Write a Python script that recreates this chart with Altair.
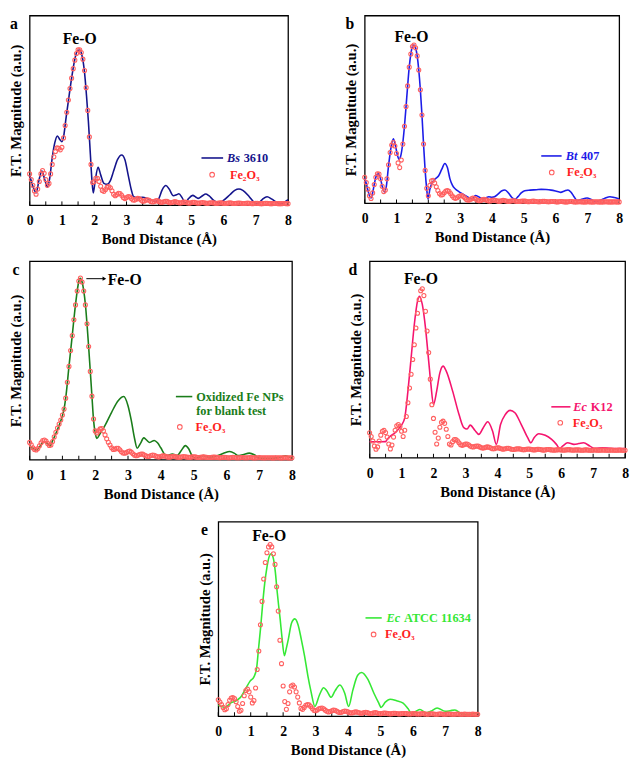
import altair as alt
import pandas as pd

FONT = "Liberation Serif"
FE_COLOR = "#ff6060"
FE_TEXT = "#ff1f1f"

# common R grid of the Fe2O3 reference (open circles), 0 .. 8 A
R_FE = [round(i * 0.05, 2) for i in range(161)]

FE_A = [16.5, 13.5, 10.5, 7.5, 5.8, 8.5, 12.5, 16.5, 18.3, 16.8,
        13.5, 10.5, 11.5, 16.5, 21.5, 25.5, 28.3, 30.2, 30.0, 29.2,
        30.5, 35.5, 42.0, 49.0, 55.5, 61.5, 67.0, 72.0, 76.5, 80.0,
        82.0, 82.0, 80.5, 77.0, 71.0, 62.0, 50.0, 36.0, 21.5, 12.0,
        12.5, 14.2, 14.2, 12.5, 10.0, 7.8, 7.3, 8.3, 9.5, 9.8,
        9.2, 7.6, 5.8, 5.0, 5.6, 6.3, 6.2, 5.2, 4.0, 3.5,
        4.0, 4.6, 4.4, 3.6, 2.8, 2.7, 3.2, 3.6, 3.4, 2.7,
        2.1, 2.2, 2.7, 2.9, 2.6, 2.0, 1.7, 1.9, 2.3, 2.4,
        2.0, 1.6, 1.5, 1.8, 2.1, 2.0, 1.6, 1.3, 1.4, 1.7,
        1.9, 1.7, 1.4, 1.2, 1.3, 1.6, 1.7, 1.5, 1.2, 1.1,
        1.3, 1.5, 1.5, 1.3, 1.1, 1.1, 1.3, 1.4, 1.3, 1.1,
        1.0, 1.1, 1.3, 1.3, 1.2, 1.0, 1.0, 1.1, 1.2, 1.2,
        1.0, 0.9, 1.0, 1.1, 1.2, 1.1, 0.9, 0.9, 1.0, 1.1,
        1.1, 1.0, 0.9, 0.9, 1.0, 1.1, 1.0, 0.9, 0.8, 0.9,
        1.0, 1.0, 0.9, 0.8, 0.8, 0.9, 1.0, 1.0, 0.9, 0.8,
        0.8, 0.9, 0.9, 0.9, 0.8, 0.8, 0.8, 0.9, 0.9, 0.8,
        0.8]

FE_B = [13.8, 11.0, 7.5, 4.0, 2.5, 5.5, 10.0, 13.8, 15.7, 15.5,
        13.0, 9.0, 6.2, 7.0, 13.0, 20.5, 27.0, 31.0, 32.3, 30.5,
        26.5, 21.5, 19.0, 23.0, 31.5, 41.0, 51.5, 62.5, 72.5, 79.5,
        83.5, 84.3, 82.8, 78.5, 71.0, 60.5, 47.0, 31.5, 17.5, 8.0,
        4.0, 9.5, 12.0, 12.2, 10.8, 8.8, 6.8, 5.2, 4.4, 4.6,
        5.6, 6.5, 6.8, 6.3, 5.2, 4.0, 3.0, 2.6, 2.9, 3.6,
        4.0, 4.1, 3.6, 2.8, 2.0, 1.6, 1.8, 2.3, 2.7, 2.6,
        2.1, 1.6, 1.3, 1.5, 1.9, 2.1, 1.9, 1.5, 1.2, 1.2,
        1.5, 1.7, 1.6, 1.3, 1.1, 1.1, 1.3, 1.5, 1.4, 1.2,
        1.0, 1.0, 1.2, 1.3, 1.3, 1.1, 0.9, 0.9, 1.0, 1.2,
        1.2, 1.1, 0.9, 0.8, 0.9, 1.0, 1.1, 1.0, 0.9, 0.8,
        0.8, 0.9, 1.0, 1.0, 0.9, 0.8, 0.8, 0.9, 0.9, 0.9,
        0.8, 0.7, 0.8, 0.9, 0.9, 0.8, 0.7, 0.7, 0.8, 0.9,
        0.9, 0.8, 0.7, 0.7, 0.8, 0.8, 0.8, 0.7, 0.7, 0.7,
        0.8, 0.8, 0.7, 0.7, 0.7, 0.8, 0.8, 0.7, 0.7, 0.7,
        0.7, 0.8, 0.8, 0.7, 0.7, 0.7, 0.7, 0.8, 0.7, 0.7,
        0.7]

FE_C = [8.7, 7.5, 6.0, 5.2, 4.9, 5.6, 7.0, 8.5, 9.6, 9.9,
        9.4, 8.2, 7.2, 7.4, 9.2, 11.5, 13.8, 16.0, 18.0, 20.0,
        22.5, 25.5, 31.0, 39.0, 47.0, 55.0, 62.5, 70.5, 78.0, 85.0,
        90.0, 91.5, 89.5, 85.0, 78.0, 68.5, 57.0, 44.5, 32.0, 20.5,
        14.5, 13.5, 14.5, 15.5, 15.7, 14.5, 12.5, 10.5, 8.8, 7.4,
        6.0, 5.2, 5.3, 5.8, 5.7, 5.0, 4.0, 3.4, 3.3, 3.6,
        4.1, 4.3, 3.8, 3.0, 2.3, 2.0, 2.2, 2.6, 2.9, 2.8,
        2.4, 1.9, 1.6, 1.7, 2.1, 2.3, 2.2, 1.8, 1.5, 1.4,
        1.6, 1.9, 1.9, 1.7, 1.4, 1.3, 1.4, 1.6, 1.7, 1.5,
        1.3, 1.2, 1.3, 1.5, 1.6, 1.5, 1.3, 1.2, 1.2, 1.4,
        1.5, 1.4, 1.2, 1.1, 1.2, 1.3, 1.4, 1.3, 1.2, 1.1,
        1.1, 1.2, 1.3, 1.3, 1.2, 1.1, 1.0, 1.1, 1.2, 1.2,
        1.1, 1.0, 1.0, 1.1, 1.2, 1.1, 1.0, 1.0, 1.0, 1.1,
        1.1, 1.0, 1.0, 1.0, 1.1, 1.1, 1.0, 0.9, 1.0, 1.0,
        1.1, 1.0, 1.0, 0.9, 1.0, 1.0, 1.0, 1.0, 0.9, 0.9,
        1.0, 1.0, 1.0, 0.9, 0.9, 1.0, 1.0, 1.0, 0.9, 0.9,
        1.0]

FE_D = [12.7, 10.8, 8.5, 6.0, 4.3, 5.5, 8.5, 11.5, 13.5, 13.9,
        12.8, 10.5, 7.0, 4.5, 6.5, 10.5, 14.0, 16.3, 16.9, 15.8,
        13.5, 10.8, 14.0, 21.0, 28.0, 35.5, 42.5, 50.0, 57.5, 66.0,
        73.5, 80.5, 85.0, 86.0, 82.5, 74.5, 64.5, 53.5, 40.0, 27.0,
        20.0, 13.0, 7.0, 10.0, 15.5, 18.0, 18.6, 17.5, 14.5, 10.8,
        7.0, 6.5, 8.2, 9.2, 9.3, 8.6, 7.6, 6.6, 6.3, 6.6,
        7.0, 7.0, 6.6, 6.0, 5.6, 5.5, 5.8, 6.0, 5.9, 5.5,
        5.1, 4.9, 5.1, 5.4, 5.5, 5.3, 4.9, 4.6, 4.6, 4.9,
        5.1, 5.0, 4.7, 4.4, 4.4, 4.6, 4.8, 4.8, 4.6, 4.3,
        4.2, 4.3, 4.5, 4.6, 4.5, 4.3, 4.1, 4.1, 4.3, 4.4,
        4.4, 4.3, 4.1, 4.0, 4.1, 4.3, 4.3, 4.2, 4.0, 3.9,
        4.0, 4.2, 4.2, 4.1, 4.0, 3.9, 3.9, 4.0, 4.1, 4.1,
        4.0, 3.9, 3.9, 4.0, 4.1, 4.1, 4.0, 3.9, 3.9, 4.0,
        4.0, 4.0, 3.9, 3.8, 3.9, 4.0, 4.0, 3.9, 3.8, 3.8,
        3.9, 4.0, 3.9, 3.8, 3.8, 3.9, 3.9, 3.9, 3.8, 3.8,
        3.8, 3.9, 3.9, 3.8, 3.8, 3.8, 3.9, 3.9, 3.8, 3.8,
        3.8]

FE_E = [8.4, 7.3, 6.0, 4.5, 3.3, 3.8, 6.0, 8.2, 9.3, 9.6,
        9.0, 7.4, 5.0, 2.5, 3.0, 6.5, 10.5, 13.2, 13.9, 12.5,
        9.8, 6.8, 8.0, 14.5, 24.0, 33.5, 47.0, 59.0, 70.5, 79.0,
        84.0, 87.0, 88.2, 87.0, 83.5, 78.0, 66.5, 54.0, 39.0, 27.0,
        15.5, 7.5, 3.5, 6.5, 12.5, 15.5, 16.0, 15.0, 12.5, 9.8,
        6.8, 4.0, 3.5, 4.5, 5.6, 6.0, 5.8, 5.0, 3.9, 3.0,
        2.8, 3.2, 3.8, 4.1, 4.2, 3.8, 3.1, 2.5, 2.2, 2.4,
        2.8, 3.1, 3.0, 2.6, 2.1, 1.9, 2.0, 2.4, 2.6, 2.5,
        2.2, 1.8, 1.6, 1.8, 2.1, 2.2, 2.0, 1.7, 1.5, 1.6,
        1.9, 2.0, 1.8, 1.5, 1.4, 1.5, 1.7, 1.8, 1.6, 1.4,
        1.3, 1.4, 1.6, 1.6, 1.5, 1.3, 1.2, 1.3, 1.5, 1.5,
        1.4, 1.2, 1.2, 1.3, 1.4, 1.4, 1.3, 1.2, 1.1, 1.2,
        1.3, 1.3, 1.2, 1.1, 1.1, 1.2, 1.3, 1.2, 1.1, 1.0,
        1.1, 1.2, 1.2, 1.1, 1.0, 1.0, 1.1, 1.2, 1.1, 1.0,
        1.0, 1.1, 1.1, 1.1, 1.0, 1.0, 1.0, 1.1, 1.1, 1.0,
        1.0, 1.0, 1.1, 1.0, 1.0, 1.0, 1.0, 1.1, 1.0, 1.0,
        1.0]

# sample curves: [R (A), magnitude (% of panel height)]
LINE_A = [[0.00, 16], [0.10, 10], [0.20, 6.5], [0.30, 14], [0.38, 18], [0.46, 14], [0.55, 9.5],
          [0.62, 14], [0.70, 25], [0.78, 33], [0.86, 36.5], [0.94, 34.5], [1.00, 33.5], [1.06, 37],
          [1.12, 45], [1.20, 55], [1.30, 67], [1.40, 77], [1.48, 81.5], [1.55, 81.8], [1.62, 79],
          [1.70, 70], [1.76, 58], [1.82, 44], [1.88, 27], [1.93, 13], [1.97, 6.5], [2.03, 13],
          [2.12, 20], [2.20, 16], [2.30, 11.5], [2.40, 11], [2.50, 13], [2.60, 18], [2.72, 24],
          [2.85, 26.5], [2.95, 24], [3.05, 16], [3.15, 8], [3.22, 4.5], [3.35, 4], [3.50, 4.2],
          [3.65, 3.5], [3.80, 2.5], [3.90, 1.8], [4.00, 3.5], [4.10, 8], [4.22, 10.4], [4.32, 8.5],
          [4.45, 5], [4.55, 5.5], [4.62, 6], [4.72, 4], [4.82, 1.2], [4.92, 3.5], [5.05, 5.2],
          [5.15, 4.2], [5.22, 3.6], [5.35, 5.0], [5.45, 5.9], [5.55, 5.0], [5.70, 2.5], [5.85, 1.2],
          [6.00, 2.5], [6.20, 5.5], [6.35, 7.8], [6.48, 8.5], [6.60, 7.8], [6.80, 4.5], [6.95, 1.5],
          [7.05, 0.7], [7.20, 3], [7.35, 4.5], [7.50, 3.2], [7.65, 1.5], [7.80, 0.7], [7.90, 1.8],
          [8.00, 2.9]]

LINE_B = [[0.00, 13.5], [0.05, 10.5], [0.10, 7], [0.15, 4], [0.20, 2.8], [0.25, 5.5], [0.30, 10],
          [0.35, 13.8], [0.42, 15.7], [0.50, 13], [0.55, 9], [0.62, 6], [0.68, 9], [0.75, 20],
          [0.82, 29], [0.90, 34.3], [0.97, 30.5], [1.03, 25.5], [1.08, 23.5], [1.13, 25], [1.20, 32.5],
          [1.25, 41], [1.30, 51.5], [1.35, 62.5], [1.40, 72.5], [1.45, 79.5], [1.50, 83.5], [1.55, 84.3],
          [1.60, 82.8], [1.65, 78.5], [1.70, 71], [1.75, 60.5], [1.80, 47], [1.85, 31.5], [1.90, 17.5],
          [1.95, 7.5], [1.99, 2.3], [2.05, 7.5], [2.14, 11.5], [2.22, 13], [2.32, 14.5], [2.42, 18],
          [2.52, 21.2], [2.60, 19], [2.68, 13], [2.76, 9.5], [2.85, 7.6], [2.95, 6.3], [3.05, 5.2],
          [3.15, 4.2], [3.25, 3.2], [3.38, 2.3], [3.48, 4.1], [3.58, 3.5], [3.70, 2.3], [3.80, 2.8],
          [3.90, 3.5], [4.00, 3.2], [4.08, 3.5], [4.20, 5.0], [4.30, 6.5], [4.41, 7.1], [4.52, 5.5],
          [4.62, 3.2], [4.72, 2.1], [4.82, 3.5], [4.92, 5.5], [5.03, 6.7], [5.20, 7.0], [5.40, 7.2],
          [5.55, 7.4], [5.70, 7.3], [5.86, 7.0], [6.00, 6.5], [6.16, 5.8], [6.28, 6.5], [6.39, 7.1],
          [6.48, 6.0], [6.58, 3.5], [6.68, 1.4], [6.80, 2.0], [6.99, 2.8], [7.12, 2.0], [7.25, 1.0],
          [7.40, 1.6], [7.55, 2.7], [7.71, 3.5], [7.85, 3.0], [8.00, 2.3]]

LINE_C = [[0.00, 6.8], [0.10, 5.6], [0.20, 4.9], [0.30, 6.5], [0.45, 9.1], [0.55, 8.0], [0.62, 6.9],
          [0.70, 9.5], [0.80, 13.2], [0.90, 17.3], [1.00, 22.2], [1.05, 25.5], [1.10, 31], [1.20, 47],
          [1.30, 62.6], [1.40, 78.3], [1.50, 89.8], [1.54, 91.4], [1.60, 89.5], [1.70, 78.3], [1.80, 56.8],
          [1.90, 32.1], [1.95, 19.8], [2.00, 13.5], [2.05, 10.7], [2.15, 13.2], [2.30, 17.3], [2.50, 23.9],
          [2.70, 29.7], [2.87, 31.8], [3.00, 27.2], [3.10, 19.8], [3.20, 10.7], [3.28, 5.8], [3.38, 8.2],
          [3.48, 11.0], [3.56, 10], [3.66, 8.7], [3.80, 9.7], [3.90, 8.5], [4.00, 6.0], [4.13, 2.5],
          [4.20, 2.1], [4.35, 2.8], [4.50, 2.1], [4.62, 4.5], [4.75, 7.1], [4.85, 5.5], [4.95, 2.1],
          [5.05, 0.8], [5.20, 1.5], [5.30, 2.1], [5.40, 1.5], [5.50, 1.2], [5.65, 1.6], [5.80, 2.5],
          [5.95, 3.5], [6.10, 4.1], [6.25, 3.2], [6.35, 2.1], [6.50, 2.5], [6.70, 3.3], [6.85, 2.5],
          [7.00, 0.8], [7.25, 0.7], [7.50, 0.8], [7.65, 1.2], [7.80, 2.0], [7.90, 1.5], [8.00, 0.8]]

LINE_D = [[0.00, 8.1], [0.25, 8.1], [0.50, 8.2], [0.55, 9.3], [0.65, 11], [0.80, 12.7], [0.90, 14.5],
          [1.00, 16.6], [1.10, 20.3], [1.20, 33.9], [1.30, 50.8], [1.40, 67.8], [1.50, 79.7], [1.56, 82.2],
          [1.65, 78], [1.75, 66.1], [1.85, 49.2], [1.92, 37.3], [2.00, 27.1], [2.10, 33.9], [2.20, 43.2],
          [2.30, 46.6], [2.40, 44.1], [2.60, 33.9], [2.80, 22], [2.95, 15.3], [3.05, 14.6], [3.15, 16.6],
          [3.30, 13.9], [3.42, 11.9], [3.55, 15], [3.70, 18.3], [3.85, 13.6], [3.97, 6.8], [4.10, 16.9],
          [4.25, 22], [4.40, 24.1], [4.55, 22.9], [4.75, 16.9], [4.95, 10.2], [5.05, 7.6], [5.15, 10.2],
          [5.30, 12.2], [5.50, 11.4], [5.70, 9.3], [5.85, 6.8], [5.95, 4.7], [6.05, 6.0], [6.20, 7.6],
          [6.40, 6.8], [6.55, 7.2], [6.70, 7.6], [6.90, 5.9], [7.05, 4.7], [7.30, 5.1], [7.60, 4.7],
          [8.00, 4.7]]

LINE_E = [[0.00, 5.6], [0.10, 5.0], [0.20, 4.5], [0.30, 5.5], [0.40, 7.0], [0.50, 7.5], [0.60, 8.5],
          [0.70, 10], [0.85, 14.3], [0.98, 18.0], [1.10, 20.2], [1.18, 24.4], [1.24, 34.5], [1.31, 46.3],
          [1.37, 58], [1.43, 68], [1.50, 76.5], [1.56, 81.5], [1.63, 83.5], [1.70, 81], [1.76, 74],
          [1.81, 65], [1.86, 57], [1.91, 49.6], [1.96, 41.2], [2.04, 31.1], [2.10, 35], [2.16, 39.5],
          [2.26, 47.9], [2.36, 50], [2.46, 47], [2.56, 39.5], [2.66, 31], [2.76, 21], [2.86, 12.6],
          [2.98, 5], [3.12, 10.9], [3.25, 14.6], [3.35, 13], [3.48, 9.7], [3.60, 13], [3.75, 16],
          [3.90, 11.8], [4.02, 5], [4.15, 13.4], [4.30, 21], [4.42, 22.4], [4.60, 19.3], [4.80, 11.8],
          [4.95, 6.7], [5.02, 4.5], [5.15, 7.2], [5.30, 8.7], [5.50, 7.9], [5.70, 6.7], [5.85, 3.9],
          [5.97, 1.2], [6.10, 2.5], [6.22, 3.4], [6.40, 1.7], [6.55, 2.5], [6.75, 4.2], [7.00, 2.5],
          [7.15, 2.8], [7.30, 3.2], [7.50, 1.2], [7.70, 0.8], [8.00, 1.7]]

X_LABELS = [0, 1, 2, 3, 4, 5, 6, 7, 8]
TICK_R = [i * 0.5 for i in range(17)]


def xenc():
    return alt.X("R:Q", scale=alt.Scale(domain=[0, 8], nice=False, zero=False),
                 axis=alt.Axis(values=X_LABELS, format="d", title="Bond Distance (Å)",
                               ticks=False, tickSize=0, labelPadding=9, titlePadding=4,
                               labelFlush=False, domain=False, grid=False))


def yenc():
    return alt.Y("v:Q", scale=alt.Scale(domain=[0, 100], nice=False),
                 axis=alt.Axis(labels=False, ticks=False, tickSize=0,
                               title="F.T. Magnitude (a.u.)", titlePadding=6,
                               domain=False, grid=False))


def txt(df, size=12.5, color="black", italic=False, align="left", dx=0):
    return alt.Chart(pd.DataFrame(df)).mark_text(
        font=FONT, fontSize=size, fontWeight="bold",
        fontStyle="italic" if italic else "normal",
        align=align, baseline="middle", dx=dx, color=color
    ).encode(x=xenc(), y=yenc(), text="t:N")


def panel(letter, lx, ly, w, h, line, fe, color, leg, feo, arrow=None):
    x, y = xenc(), yenc()
    layers = []
    tick_df = pd.DataFrame({"R": TICK_R, "v": [0] * len(TICK_R), "v2": [2] * len(TICK_R)})
    layers.append(alt.Chart(tick_df).mark_rule(color="black", strokeWidth=1).encode(x=x, y=y, y2="v2:Q"))
    line_df = pd.DataFrame(line, columns=["R", "v"])
    layers.append(alt.Chart(line_df).mark_line(color=color, strokeWidth=1.6, interpolate="monotone")
                  .encode(x=x, y=y))
    fe_df = pd.DataFrame({"R": R_FE, "v": fe})
    layers.append(alt.Chart(fe_df).mark_point(shape="circle", filled=False, color=FE_COLOR,
                                              size=17, strokeWidth=1.1, opacity=1).encode(x=x, y=y))
    # legend (placed in data coordinates)
    r1, r2, lv = leg["line"]
    layers.append(alt.Chart(pd.DataFrame({"R": [r1], "R2": [r2], "v": [lv]}))
                  .mark_rule(color=color, strokeWidth=1.6).encode(x=x, x2="R2:Q", y=y))
    for (tr, tv, t, ital, dx) in leg["texts"]:
        layers.append(txt({"R": [tr], "v": [tv], "t": [t]}, color=leg["tcolor"], italic=ital, dx=dx))
    cr, cv, fr = leg["fe"]
    layers.append(alt.Chart(pd.DataFrame({"R": [cr], "v": [cv]}))
                  .mark_point(shape="circle", filled=False, color=FE_COLOR, size=22, strokeWidth=1.1, opacity=1)
                  .encode(x=x, y=y))
    layers.append(txt({"R": [fr], "v": [cv], "t": ["Fe₂O₃"]}, color=FE_TEXT))
    # Fe-O annotation
    fr_, fv_, falign = feo
    layers.append(txt({"R": [fr_], "v": [fv_], "t": ["Fe-O"]}, size=16, align=falign))
    if arrow:
        a1, a2, av = arrow
        layers.append(alt.Chart(pd.DataFrame({"R": [a1], "R2": [a2], "v": [av]}))
                      .mark_rule(color="black", strokeWidth=1).encode(x=x, x2="R2:Q", y=y))
        layers.append(alt.Chart(pd.DataFrame({"R": [a2], "v": [av]}))
                      .mark_point(shape="triangle-right", filled=True, color="black", size=18, opacity=1)
                      .encode(x=x, y=y))
    # panel letter (kept inside the top edge so it does not shift the layout)
    layers.append(alt.Chart(pd.DataFrame({"t": [letter]})).mark_text(
        font=FONT, fontSize=16, fontWeight="bold", align="center", baseline="alphabetic", color="black"
    ).encode(x=alt.value(lx), y=alt.value(ly), text="t:N"))
    return alt.layer(*layers).properties(width=w, height=h)


pa = panel("a", -16, 14, 263, 193, LINE_A, FE_A, "#14148c",
           {"line": [5.32, 5.99, 24.9], "tcolor": "#14148c",
            "texts": [[6.11, 24.9, "Bs", True, 0], [6.11, 24.9, "3610", False, 17]],
            "fe": [5.65, 16.1, 6.2]},
           [1.55, 87.6, "center"])

pb = panel("b", -15, 14, 259, 191, LINE_B, FE_B, "#1c1ce8",
           {"line": [5.55, 6.19, 25.2], "tcolor": "#1c1ce8",
            "texts": [[6.32, 25.2, "Bt", True, 0], [6.32, 25.2, "407", False, 15.5]],
            "fe": [5.88, 16.4, 6.35]},
           [1.47, 88.7, "center"])

pc = panel("c", -14, 14, 267, 202, LINE_C, FE_C, "#1a7d1a",
           {"line": [4.46, 4.96, 31.8], "tcolor": "#1a7d1a",
            "texts": [[5.08, 31.8, "Oxidized Fe NPs", False, 0], [5.08, 24.3, "for blank test", False, 0]],
            "fe": [4.58, 16.5, 5.06]},
           [2.38, 90.4, "left"], arrow=[1.73, 2.28, 91.2])

pd_ = panel("d", -17, 14, 260, 200, LINE_D, FE_D, "#f5146e",
            {"line": [5.69, 6.29, 25.9], "tcolor": "#f5146e",
             "texts": [[6.38, 25.9, "Ec", True, 0], [6.38, 25.9, "K12", False, 17.7]],
             "fe": [5.97, 17.8, 6.36]},
            [1.61, 91.0, "center"])

pe = panel("e", -14, 14, 264, 198, LINE_E, FE_E, "#35e835",
           {"line": [4.54, 5.04, 50.5], "tcolor": "#35e835",
            "texts": [[5.19, 50.5, "Ec", True, 0], [5.19, 50.5, "ATCC 11634", False, 17.7]],
            "fe": [4.79, 42.0, 5.14]},
           [1.57, 92.6, "center"])

spacer = alt.Chart(pd.DataFrame({"a": [0]})).mark_point(opacity=0).encode(
    x=alt.X("a:Q", axis=None), y=alt.Y("a:Q", axis=None)
).properties(width=169, height=10, view=alt.ViewBackground(strokeOpacity=0))

row1 = alt.hconcat(pa, pb, spacing=51)
row2 = alt.hconcat(pc, pd_, spacing=51)
row3 = alt.hconcat(spacer, pe, spacing=1)

top_rows = alt.vconcat(row1, row2, spacing=13)

chart = alt.vconcat(top_rows, row3, spacing=19).properties(padding=0).configure_view(
    stroke="black", strokeWidth=1.3
).configure_axis(
    labelFont=FONT, labelFontSize=14, labelFontWeight="bold", labelColor="black",
    titleFont=FONT, titleFontSize=15, titleFontWeight="bold", titleColor="black"
)

chart.save("out.html", embed_options={"renderer": "svg", "actions": False})
